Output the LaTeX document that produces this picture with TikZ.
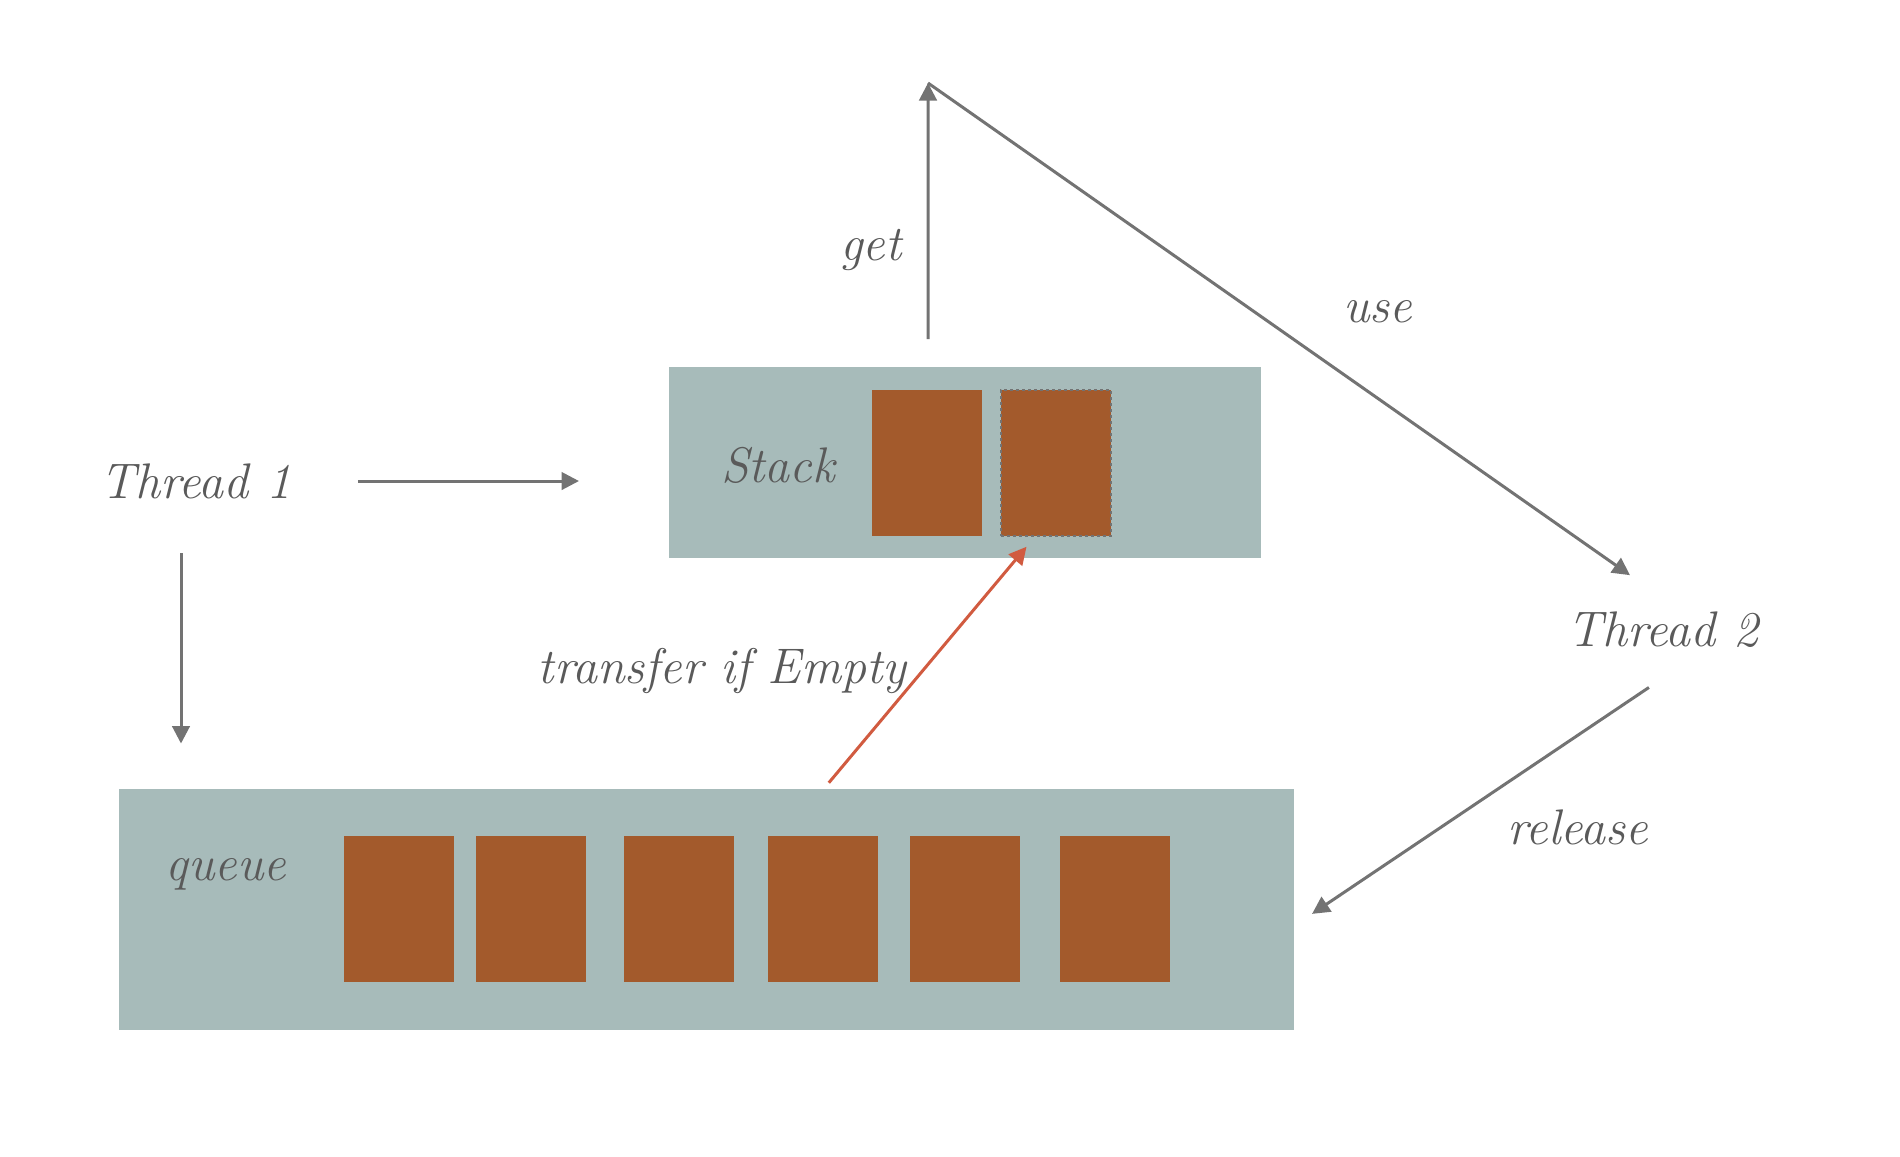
\documentclass[tikz,border=0pt]{standalone}
\usepackage{tikz}
\usetikzlibrary{arrows.meta,calc,positioning}
\definecolor{panel}{HTML}{A7BBBA}
\definecolor{brick}{HTML}{A35A2C}
\definecolor{wire}{HTML}{737373}
\definecolor{ink}{HTML}{5A5A5A}
\definecolor{hot}{HTML}{D15B40}
\tikzstyle{cpanel}=[rectangle, fill=panel, inner sep=0, outer sep=0]
\tikzstyle{cblk}=[rectangle, fill=brick, minimum width=44pt, minimum height=58.4pt, inner sep=0, outer sep=0]
\tikzstyle{clbl}=[text=ink, inner sep=0, font=\fontsize{20}{24}\selectfont\itshape]
\tikzstyle{cflow}=[draw=wire, line width=1.2pt, -{Triangle[length=7pt,width=7pt]}]
\tikzstyle{chot}=[draw=hot, line width=1.2pt, -{Triangle[length=7pt,width=7pt]}]

\begin{document}
\begin{tikzpicture}[x=0.4pt, y=-0.4pt]
			\useasboundingbox (0,0) rectangle (1900,1156);

			% panels
			\node[cpanel, minimum width=236.8pt, minimum height=76.4pt] (stack) at (965,462.5) {};
			\node[cpanel, minimum width=470pt, minimum height=96.4pt] (queue) at (706.5,909) {};

			% stack slots
			\node[cblk] (stk1) at (927,463) {};
			\node[cblk, draw=wire, line width=0.9pt, dash pattern=on 1.2pt off 1.2pt, right=7.6pt of stk1] (stk2) {};

			% queue slots
			\node[cblk] (q1) at (399,909) {};
			\node[cblk, right=8.8pt of q1] (q2) {};
			\node[cblk, right=15.2pt of q2] (q3) {};
			\node[cblk, right=13.6pt of q3] (q4) {};
			\node[cblk, right=12.8pt of q4] (q5) {};
			\node[cblk, right=16pt of q5] (q6) {};

			\node[clbl, anchor=base] (stklbl) at (778,482) {Stack};
			\node[clbl, anchor=base] (qlbl) at (226,880) {queue};
			\node[clbl] (thread1) at (196,481) {Thread 1};
			\node[clbl] (thread2) at (1663,630) {Thread 2};
			\coordinate (apex) at (928,83);

			\draw[cflow, shorten <=26.4pt, shorten >=36pt]
				(thread1.east) -- (stack.west |- thread1.east);
			\draw[cflow, shorten <=21.6pt, shorten >=18pt]
				([xshift=-6pt]thread1.south) -- ([xshift=-6pt]thread1.south |- queue.north);
			\draw[cflow, shorten <=11.2pt]
				([xshift=-14.8pt]stack.north) -- (apex);
			\draw[cflow, shorten >=25.4pt]
				(apex) -- ([xshift=7.6pt]thread2.north);
			\draw[cflow, shorten <=28pt, shorten >=8.7pt]
				([xshift=17.6pt]thread2.south) -- ([yshift=-6.8pt]queue.east);
			\draw[chot, shorten <=3pt, shorten >=5.6pt]
				([xshift=47pt]queue.north) -- ([xshift=-8.2pt]stk2.south);

			% labels
			\node[clbl, anchor=base] (getlbl) at (871,260) {get};
			\node[clbl, anchor=base] (uselbl) at (1378,322) {use};
			\node[clbl, anchor=base] (rellbl) at (1578,844) {release};
			\node[clbl, anchor=base] (xferlbl) at (722,683) {transfer if Empty};
\end{tikzpicture}
\end{document}
